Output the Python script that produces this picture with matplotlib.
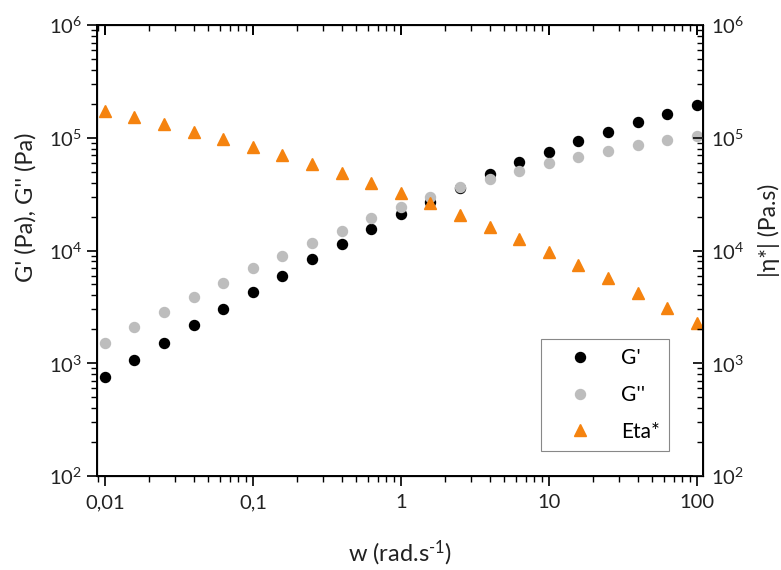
import numpy as np
import matplotlib
matplotlib.use("Agg")
from matplotlib import pyplot as plt
from matplotlib.ticker import FixedLocator, FixedFormatter, LogLocator, NullFormatter

# angular frequency (rad/s)
w = [0.01, 0.0158, 0.0251, 0.0398, 0.0631, 0.1, 0.158, 0.251, 0.398, 0.631, 1,
     1.58, 2.51, 3.98, 6.31, 10, 15.8, 25.1, 39.8, 63.1, 100]

# storage modulus G' (Pa)
g_storage = [760, 1070, 1520, 2170, 3050, 4310, 5940, 8360, 11350, 15500, 20950,
             27100, 36000, 47700, 60600, 75200, 93600, 113000, 137000, 163000, 194000]

# loss modulus G'' (Pa)
g_loss = [1520, 2110, 2870, 3890, 5120, 6950, 8990, 11700, 15000, 19300, 24150,
          29600, 36300, 42800, 51000, 59300, 67900, 76800, 85700, 95500, 103700]

# complex viscosity |eta*| (Pa.s)
eta = [172700, 151800, 132400, 113200, 97500, 83300, 70300, 58500, 49000, 39900, 32200,
       26200, 20600, 16300, 12650, 9770, 7430, 5670, 4170, 3070, 2260]

x_ticks = [0.01, 0.1, 1, 10, 100]
x_labels = ["0,01", "0,1", "1", "10", "100"]
y_ticks = [1e2, 1e3, 1e4, 1e5, 1e6]
y_labels = [r"$10^{2}$", r"$10^{3}$", r"$10^{4}$", r"$10^{5}$", r"$10^{6}$"]

plt.rcParams["font.family"] = ["Lato", "DejaVu Sans"]
plt.rcParams["mathtext.fontset"] = "custom"
plt.rcParams["mathtext.rm"] = "Lato"
plt.rcParams["mathtext.default"] = "regular"

fig = plt.figure(figsize=(7.81, 5.70), dpi=100)
ax = fig.add_axes([0.124, 0.165, 0.776, 0.791])

ax.plot(w, g_storage, "o", color="black", markersize=7.2, label="G'")
ax.plot(w, g_loss, "o", color="#bdbdbd", markersize=7.2, label="G''")
ax.plot(w, eta, "^", color="#f5830f", markersize=8, label="Eta*")

xlim = (0.00883, 110)
ylim = (1e2, 1e6)
ax.set_xscale("log")
ax.set_yscale("log")
ax.set_xlim(*xlim)
ax.set_ylim(*ylim)

lw = 1.4
for s in ax.spines.values():
    s.set_linewidth(lw)

ax.xaxis.set_major_locator(FixedLocator(x_ticks))
ax.xaxis.set_major_formatter(FixedFormatter(x_labels))
ax.xaxis.set_minor_locator(LogLocator(base=10, subs=np.arange(2, 10)))
ax.xaxis.set_minor_formatter(NullFormatter())
ax.yaxis.set_major_locator(FixedLocator(y_ticks))
ax.yaxis.set_major_formatter(FixedFormatter(y_labels))
ax.yaxis.set_minor_locator(LogLocator(base=10, subs=np.arange(2, 10)))
ax.yaxis.set_minor_formatter(NullFormatter())
ax.tick_params(which="major", direction="out", length=7, width=lw, labelsize=14.5, colors="#222222")
ax.tick_params(which="minor", direction="out", length=4, width=1.0)
ax.tick_params(axis="x", pad=6)

# mirrored axes: top ticks and right eta axis point inward
ax_top = ax.twiny()
ax_top.set_xscale("log")
ax_top.set_xlim(*xlim)
ax_top.xaxis.set_major_locator(FixedLocator(x_ticks))
ax_top.xaxis.set_minor_locator(LogLocator(base=10, subs=np.arange(2, 10)))
ax_top.xaxis.set_minor_formatter(NullFormatter())
ax_top.tick_params(which="major", direction="in", length=7, width=lw, labeltop=False)
ax_top.tick_params(which="minor", direction="in", length=4, width=1.0)

ax_right = ax.twinx()
ax_right.set_yscale("log")
ax_right.set_ylim(*ylim)
ax_right.yaxis.set_major_locator(FixedLocator(y_ticks))
ax_right.yaxis.set_major_formatter(FixedFormatter(y_labels))
ax_right.yaxis.set_minor_locator(LogLocator(base=10, subs=np.arange(2, 10)))
ax_right.yaxis.set_minor_formatter(NullFormatter())
ax_right.tick_params(which="major", direction="in", length=7, width=lw, labelsize=14.5,
                     colors="#222222", pad=6)
ax_right.tick_params(which="minor", direction="in", length=4, width=1.0)

ax.set_xlabel(r"w (rad.s$^{\text{-}1}$)", fontsize=17, color="#222222")
ax.xaxis.set_label_coords(0.5, -0.138)
ax.set_ylabel("G' (Pa), G'' (Pa)", fontsize=17, color="#222222")
ax.yaxis.set_label_coords(-0.100, 0.596)
ax_right.set_ylabel("|η*| (Pa.s)", fontsize=16.5, color="#222222")
ax_right.yaxis.set_label_coords(1.09, 0.545)

leg = ax.legend(loc="lower right", bbox_to_anchor=(0.944, 0.055), fontsize=15,
                fancybox=False, edgecolor="#888888", framealpha=1, borderaxespad=0,
                handletextpad=0.5, borderpad=0.45, labelspacing=0.8, handlelength=2.9)
leg.get_frame().set_linewidth(0.8)

fig.savefig("out.png", dpi=100)
